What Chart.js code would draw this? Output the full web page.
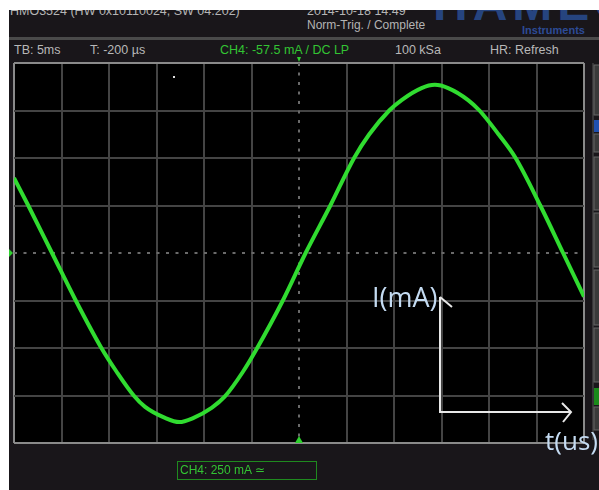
<!DOCTYPE html>
<html>
<head>
<meta charset="utf-8">
<title>HMO3524 CH4</title>
<script src="https://cdn.jsdelivr.net/npm/chart.js@4.4.1/dist/chart.umd.min.js"></script>
<style>
  html, body { margin: 0; padding: 0; background: #fff; }
  #wrap { position: relative; width: 599px; height: 490px; overflow: hidden; }
  #scope { position: absolute; left: 9px; top: 10px; width: 590px; height: 480px; background: #19161a; overflow: hidden; }
  #chart { position: absolute; left: 0; top: 0; }
  #marks { position: absolute; left: 0; top: 0; }
  .t { position: absolute; white-space: nowrap; line-height: 1; font-family: "Liberation Sans", Arial, sans-serif; }
  .hd { color: #b4b4b4; font-size: 12.5px; }
  .st { color: #b8b8b8; font-size: 12.5px; top: 34px; }
  .green { color: #33c433; }
  #logo { left: 424px; top: -30px; font-size: 48px; font-weight: bold; letter-spacing: 5px; color: #26447f; }
  #instr { left: 513px; top: 15px; font-size: 11px; font-weight: bold; color: #2d4b96; }
  #sep { position: absolute; left: 0; top: 27px; width: 590px; height: 3px; background: #4a4a4a; }
  #chbox { position: absolute; left: 177px; top: 461px; width: 136px; height: 15px; border: 1.5px solid #1f8a1f; color: #33c433; font-size: 12px; padding: 2px 0 0 2px; box-sizing: content-box; }
  .note { position: absolute; white-space: nowrap; line-height: 1; font-family: "Open Sans", "Noto Sans", sans-serif; color: #c4dbf2; }
  #ilabel { left: 372px; top: 283px; font-size: 27px; }
  #tlabel { left: 545px; top: 427px; font-size: 26px; }
</style>
</head>
<body>
<div id="wrap">
  <div id="scope">
    <div class="t hd" style="left:1px; top:-5px;">HMO3524 (HW 0x10110024, SW 04.202)</div>
    <div class="t hd" style="left:298px; top:-5px;">2014-10-18 14:49</div>
    <div class="t hd" style="left:298px; top:9px; font-size:12px;">Norm-Trig. / Complete</div>
    <div class="t" id="logo">HAMEG</div>
    <div class="t" id="instr">Instruments</div>
    <div id="sep"></div>
    <div class="t st" style="left:5px;">TB: 5ms</div>
    <div class="t st" style="left:81px;">T: -200 µs</div>
    <div class="t st green" style="left:211px;">CH4: -57.5 mA / DC LP</div>
    <div class="t st" style="left:386px;">100 kSa</div>
    <div class="t st" style="left:481px;">HR: Refresh</div>
  </div>
  <canvas id="chart" width="599" height="490"></canvas>
  <svg id="marks" width="599" height="490">
    <!-- side panel buttons -->
    <line x1="593" y1="63" x2="593" y2="440" stroke="#555" stroke-width="1"/>
    <rect x="594" y="65" width="8" height="50" fill="#3a3a3a" stroke="#666"/>
    <rect x="594" y="120" width="8" height="12" fill="#2050b0"/>
    <rect x="594" y="134" width="8" height="18" fill="#3a3a3a" stroke="#666"/>
    <rect x="594" y="157" width="8" height="53" fill="#3a3a3a" stroke="#666"/>
    <rect x="594" y="213" width="8" height="54" fill="#3a3a3a" stroke="#666"/>
    <rect x="594" y="270" width="8" height="55" fill="#3a3a3a" stroke="#666"/>
    <rect x="594" y="328" width="8" height="54" fill="#3a3a3a" stroke="#666"/>
    <rect x="594" y="388" width="8" height="17" fill="#1a8a1a"/>
    <rect x="594" y="407" width="8" height="23" fill="#3a3a3a" stroke="#666"/>
    <!-- channel / trigger markers -->
    <polygon points="9,249 13,253 9,257" fill="#2fd02f"/>
    <polygon points="295,443 299,436 303,443" fill="#2fd02f"/>
    <polygon points="297,57 301,57 299,62" fill="#2fd02f"/>
    <rect x="173" y="76" width="2" height="2" fill="#e0e0e0"/>
    <!-- axis sketch -->
    <g stroke="#e8e8e8" stroke-width="2" fill="none">
      <polyline points="440,297 440,412 570,412"/>
      <polyline points="440,297 452,307"/>
      <polyline points="562,403 571,412 563,422"/>
    </g>
  </svg>
  <div class="note" id="ilabel">I(mA)</div>
  <div class="note" id="tlabel">t(us)</div>
  <div class="t" id="chbox">CH4: 250 mA ≃</div>
</div>
<script>
// trace: time in ms from screen centre, current in mA
const timeMs = [-30.0, -28.5, -26.0, -23.5, -20.8, -19.2, -17.4, -16.2, -14.1, -12.6, -11.2, -9.2, -7.8,
  -5.9, -4.4, -1.7, 0.7, 3.3, 5.8, 7.4, 9.5, 10.8, 12.9, 14.3, 15.7, 17.8, 19.0, 21.0, 22.8, 25.4, 27.8, 30.0];
const currentMa = [395, 250, 0, -250, -500, -625, -750, -810, -868, -890, -870, -815, -755,
  -625, -500, -250, 0, 250, 500, 625, 750, 805, 868, 885, 868, 805, 750, 625, 500, 250, 0, -230];

// 12 x 8 divisions: 5 ms/div, 250 mA/div
const timeDivs = [-30, 30, 5];
const currentDivs = [-1000, 1000, 250];

const points = timeMs.map((t, i) => ({ x: t, y: currentMa[i] }));

const gridColor = (min, max) => (ctx) => {
  const v = ctx.tick.value;
  if (v === 0) return 'transparent';
  if (v === min || v === max) return '#8a8a8a';
  return '#444444';
};

const screenBg = {
  id: 'screenBg',
  beforeDraw(chart) {
    const { ctx, chartArea: a } = chart;
    ctx.save();
    ctx.fillStyle = '#000';
    ctx.fillRect(a.left, a.top, a.right - a.left, a.bottom - a.top);
    ctx.restore();
  },
  beforeDatasetsDraw(chart) {
    const { ctx, chartArea: a, scales } = chart;
    const cx = scales.x.getPixelForValue(0);
    const cy = scales.y.getPixelForValue(0);
    ctx.save();
    ctx.strokeStyle = '#6a6a6a';
    ctx.lineWidth = 2;
    ctx.setLineDash([3, 6.5]);
    ctx.beginPath();
    ctx.moveTo(cx, a.top);
    ctx.lineTo(cx, a.bottom);
    ctx.moveTo(a.left, cy);
    ctx.lineTo(a.right, cy);
    ctx.stroke();
    ctx.restore();
  }
};

new Chart(document.getElementById('chart'), {
  type: 'line',
  data: {
    datasets: [{
      label: 'CH4',
      data: points,
      borderColor: '#30dc30',
      borderWidth: 4,
      pointRadius: 0,
      cubicInterpolationMode: 'monotone',
      fill: false
    }]
  },
  options: {
    responsive: false,
    animation: false,
    devicePixelRatio: 1,
    layout: { padding: { left: 14, top: 63, right: 15, bottom: 47 } },
    plugins: { legend: { display: false }, tooltip: { enabled: false } },
    scales: {
      x: {
        type: 'linear',
        min: timeDivs[0],
        max: timeDivs[1],
        ticks: { display: false, stepSize: timeDivs[2] },
        grid: { color: gridColor(timeDivs[0], timeDivs[1]), lineWidth: 2, drawTicks: false },
        border: { display: false },
        afterFit(s) { s.height = 0; }
      },
      y: {
        min: currentDivs[0],
        max: currentDivs[1],
        ticks: { display: false, stepSize: currentDivs[2] },
        grid: { color: gridColor(currentDivs[0], currentDivs[1]), lineWidth: 2, drawTicks: false },
        border: { display: false },
        afterFit(s) { s.width = 0; }
      }
    }
  },
  plugins: [screenBg]
});
</script>
</body>
</html>
